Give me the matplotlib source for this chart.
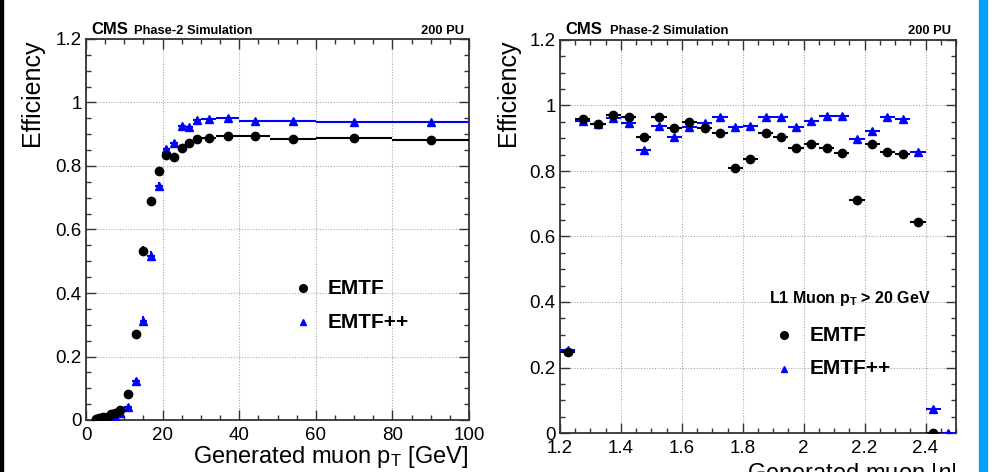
import numpy as np
import matplotlib
matplotlib.use("Agg")
import matplotlib.pyplot as plt
from matplotlib.ticker import MultipleLocator, FuncFormatter
from matplotlib.lines import Line2D
from matplotlib.patches import Rectangle

plt.rcParams['font.family'] = ['Liberation Sans', 'DejaVu Sans']
plt.rcParams['mathtext.fontset'] = 'custom'
plt.rcParams['mathtext.rm'] = 'Liberation Sans'
plt.rcParams['mathtext.it'] = 'Liberation Sans:italic'
plt.rcParams['mathtext.bf'] = 'Liberation Sans:bold'

# ---------------- data: efficiency vs pT ----------------
pt_edges = [2, 3, 4, 5, 6, 7, 8, 10, 12, 14, 16, 18, 20, 22, 24, 26, 28, 30, 34, 40, 48, 60, 80, 100]
eff_pt_emtf = [0.003, 0.005, 0.008, 0.010, 0.018, 0.022, 0.031, 0.081, 0.270, 0.532, 0.690, 0.784,
               0.835, 0.829, 0.856, 0.873, 0.884, 0.887, 0.896, 0.893, 0.884, 0.889, 0.882]
err_pt_emtf = [0.002, 0.002, 0.003, 0.003, 0.004, 0.004, 0.005, 0.008, 0.012, 0.015, 0.013, 0.011,
               0.009, 0.009, 0.008, 0.007, 0.006, 0.005, 0.004, 0.004, 0.003, 0.003, 0.003]
eff_pt_emtfpp = [0.000, 0.002, 0.003, 0.004, 0.008, 0.012, 0.021, 0.042, 0.123, 0.312, 0.517, 0.738,
                 0.853, 0.871, 0.927, 0.922, 0.945, 0.947, 0.950, 0.943, 0.943, 0.938, 0.939]
err_pt_emtfpp = [0.001, 0.002, 0.002, 0.003, 0.003, 0.004, 0.004, 0.006, 0.010, 0.015, 0.015, 0.012,
                 0.009, 0.008, 0.006, 0.006, 0.005, 0.004, 0.004, 0.003, 0.003, 0.003, 0.003]

# ---------------- data: efficiency vs |eta| ----------------
eta_edges = [1.20, 1.25, 1.30, 1.35, 1.40, 1.45, 1.50, 1.55, 1.60, 1.65, 1.70, 1.75, 1.80, 1.85,
             1.90, 1.95, 2.00, 2.05, 2.10, 2.15, 2.20, 2.25, 2.30, 2.35, 2.40, 2.45, 2.50]
eff_eta_emtf = [0.248, 0.959, 0.944, 0.971, 0.964, 0.903, 0.966, 0.932, 0.949, 0.932, 0.917, 0.810,
                0.836, 0.915, 0.905, 0.871, 0.882, 0.871, 0.856, 0.711, 0.882, 0.857, 0.852, 0.645,
                0.000, np.nan]
eff_eta_emtfpp = [0.253, 0.954, 0.942, 0.961, 0.946, 0.864, 0.937, 0.905, 0.933, 0.946, 0.964, 0.933,
                  0.937, 0.964, 0.966, 0.933, 0.954, 0.969, 0.969, 0.897, 0.922, 0.966, 0.958, 0.857,
                  0.074, 0.000]
err_eta = 0.005

W, H = 997, 472
fig = plt.figure(figsize=(W / 100, H / 100), dpi=100)
fig.patch.set_facecolor('white')

def fx(x):
    return x / W

def fy(y):
    return (H - y) / H

# decorative strips at the edges
fig.add_artist(Rectangle((0, 0), fx(3), 1, transform=fig.transFigure, color='black', zorder=0))
fig.add_artist(Rectangle((fx(979), 0), fx(8), 1, transform=fig.transFigure, color='#0aa0f8', zorder=0))

def make_ax(l, r, t, b):
    return fig.add_axes([fx(l), fy(b), fx(r - l), (b - t) / H])

axL = make_ax(86, 469, 39, 420)
axR = make_ax(560, 956, 40, 433)

fmt = FuncFormatter(lambda v, p: ('%g' % round(v, 3)))

def style(ax, xmajor, xminor):
    ax.set_ylim(0, 1.2)
    ax.yaxis.set_major_locator(MultipleLocator(0.2))
    ax.yaxis.set_minor_locator(MultipleLocator(0.05))
    ax.xaxis.set_major_locator(MultipleLocator(xmajor))
    ax.xaxis.set_minor_locator(MultipleLocator(xminor))
    ax.xaxis.set_major_formatter(fmt)
    ax.yaxis.set_major_formatter(fmt)
    ax.tick_params(which='both', direction='in', top=True, right=True, colors='#333333',
                   labelcolor='black', labelsize=13.5)
    ax.tick_params(which='major', length=7, width=1)
    ax.tick_params(which='minor', length=3.5, width=1)
    ax.tick_params(axis='x', pad=5)
    ax.tick_params(axis='y', pad=3)
    for s in ax.spines.values():
        s.set_color('#333333')
        s.set_linewidth(1.3)
    ax.grid(True, which='major', color='#aaaaaa', linestyle=(0, (1, 1.5)), linewidth=0.8)
    ax.set_axisbelow(True)

# ---- left panel ----
pe = np.array(pt_edges, dtype=float)
pc = 0.5 * (pe[1:] + pe[:-1])
pw = 0.5 * (pe[1:] - pe[:-1])
axL.errorbar(pc, eff_pt_emtfpp, xerr=pw, yerr=err_pt_emtfpp, fmt='^', color='blue', ms=5.5,
             elinewidth=1.5, capsize=0, zorder=3)
axL.errorbar(pc, eff_pt_emtf, xerr=pw, yerr=err_pt_emtf, fmt='o', color='black', ms=6,
             elinewidth=1.5, capsize=0, zorder=4)
axL.set_xlim(0, 100)
style(axL, 20, 5)

# ---- right panel ----
ee = np.array(eta_edges)
ec = 0.5 * (ee[1:] + ee[:-1])
ew = 0.5 * (ee[1:] - ee[:-1])
axR.errorbar(ec, eff_eta_emtfpp, xerr=ew, yerr=err_eta, fmt='^', color='blue', ms=5.5,
             elinewidth=1.5, capsize=0, zorder=3)
axR.errorbar(ec, eff_eta_emtf, xerr=ew, yerr=err_eta, fmt='o', color='black', ms=6,
             elinewidth=1.5, capsize=0, zorder=4)
axR.set_xlim(1.2, 2.5)
style(axR, 0.2, 0.05)

# ---- labels ----
fig.text(fx(32.5), fy(39), 'Efficiency', rotation=90, ha='center', va='top', fontsize=18)
fig.text(fx(508), fy(40), 'Efficiency', rotation=90, ha='center', va='top', fontsize=18)
fig.text(fx(468), fy(463), r'Generated muon p$_{\mathrm{T}}$ [GeV]', ha='right', va='baseline',
         fontsize=17)
fig.text(fx(956), fy(480), r'Generated muon |$\eta$|', ha='right', va='baseline', fontsize=17)

for (xc, xp, xr) in [(91, 134, 464), (565, 610, 951)]:
    fig.text(fx(xc), fy(34), 'CMS', fontsize=12, fontweight='bold', ha='left', va='baseline')
    fig.text(fx(xp), fy(34), 'Phase-2 Simulation', fontsize=9.3, fontweight='bold', ha='left',
             va='baseline')
    fig.text(fx(xr), fy(34), '200 PU', fontsize=9.3, fontweight='bold', ha='right', va='baseline')

# ---- legends ----
def legend(ax, mx, tx, y1, y2):
    ax.add_line(Line2D([mx], [y1], marker='o', color='black', ms=5.5, transform=ax.transAxes,
                       clip_on=False))
    ax.add_line(Line2D([mx], [y2], marker='^', color='blue', ms=5, transform=ax.transAxes,
                       clip_on=False))
    ax.text(tx, y1, 'EMTF', transform=ax.transAxes, fontsize=15, fontweight='bold', va='center')
    ax.text(tx, y2, 'EMTF++', transform=ax.transAxes, fontsize=15, fontweight='bold', va='center')

legend(axL, 0.567, 0.632, 0.346, 0.257)
legend(axR, 0.566, 0.631, 0.249, 0.163)
axR.text(0.528, 0.341, r'L1 Muon p$_{\mathbf{T}}$ > 20 GeV', transform=axR.transAxes,
         fontsize=11.5, fontweight='bold', va='center', ha='left')

fig.savefig('out.png', dpi=100)
